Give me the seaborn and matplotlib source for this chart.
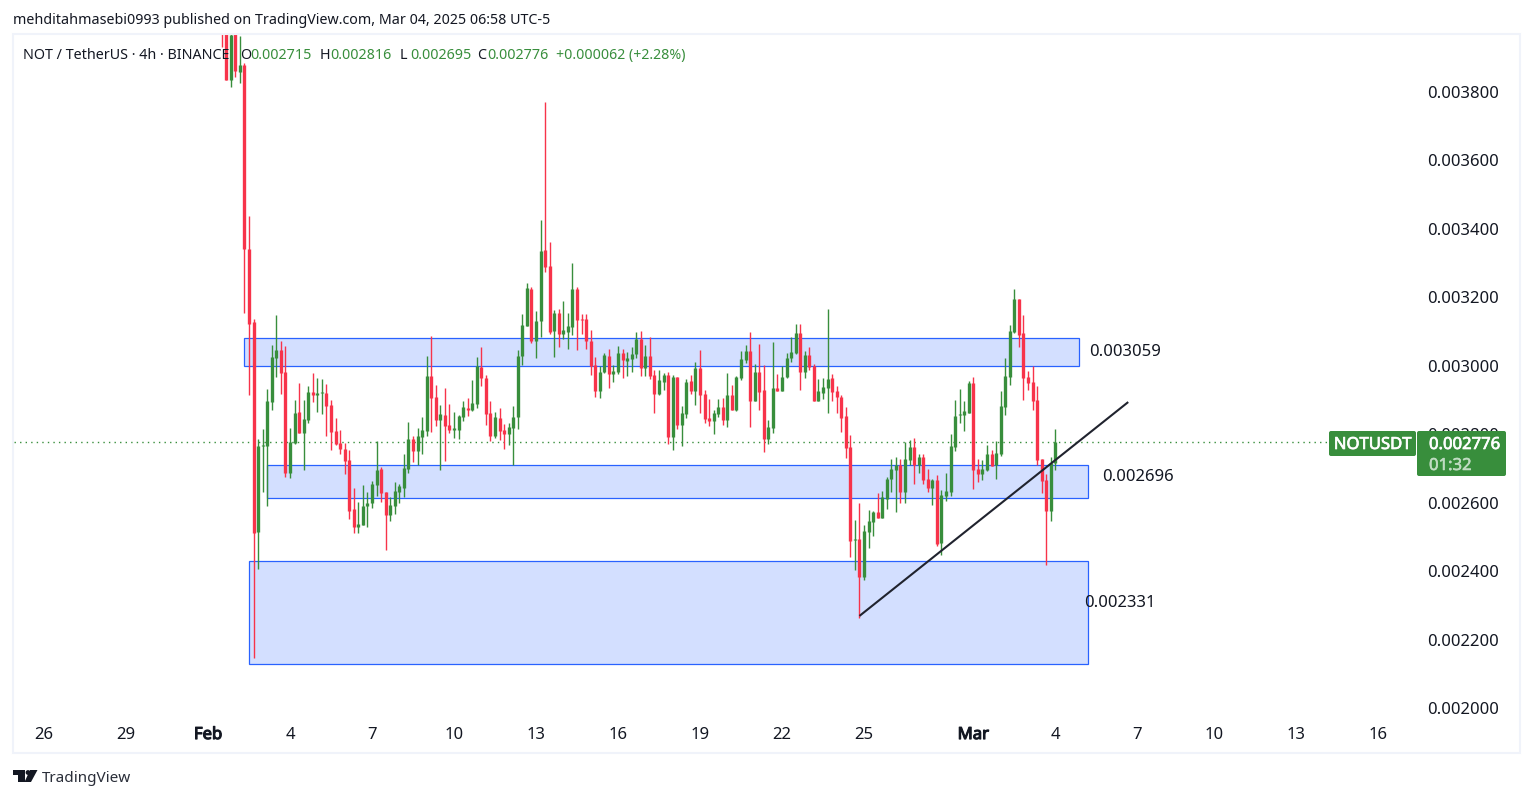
import matplotlib
matplotlib.use('Agg')
import matplotlib.dates as mdates
import matplotlib.patheffects as pe
import matplotlib.pyplot as plt
from matplotlib.patches import Circle, FancyBboxPatch, Polygon, Rectangle
import numpy as np
import pandas as pd
import seaborn as sns

# prices in millionths of a USDT, one entry per 4h candle
opens = [4060, 3990, 3835, 3990, 3858, 3879, 3341, 3128, 2514, 2766, 2766, 2894, 3023, 3046, 2982, 2687,
         2774, 2865, 2804, 2842, 2923, 2915, 2920, 2920, 2885, 2809, 2774, 2757, 2725, 2582, 2529, 2535,
         2590, 2599, 2652, 2698, 2631, 2564, 2590, 2631, 2643, 2698, 2786, 2751, 2792, 2809, 2970, 2909,
         2842, 2856, 2827, 2812, 2812, 2850, 2877, 2871, 2888, 2996, 2964, 2862, 2795, 2847, 2812, 2801,
         2818, 2850, 3029, 3116, 3224, 3072, 3131, 3338, 3292, 3102, 3154, 3093, 3099, 3113, 3224, 3137,
         3137, 3072, 3002, 2926, 2982, 3029, 2976, 2982, 3037, 3014, 3020, 3034, 3078, 2994, 3029, 2973,
         2918, 2953, 2973, 2792, 2967, 2827, 2859, 2956, 2926, 2994, 2918, 2847, 2839, 2859, 2880, 2842,
         2915, 2871, 2964, 3017, 3043, 2897, 2982, 2929, 2786, 2818, 2935, 2926, 2967, 3023, 3037, 3096,
         2982, 3032, 2999, 2897, 2920, 2935, 2964, 2926, 2909, 2853, 2763, 2491, 2494, 2383, 2514, 2544,
         2573, 2555, 2611, 2669, 2695, 2710, 2631, 2725, 2763, 2710, 2733, 2669, 2643, 2666, 2482, 2620,
         2631, 2763, 2856, 2856, 2862, 2950, 2698, 2684, 2695, 2742, 2710, 2742, 2880, 2967, 3099, 3195,
         3096, 2967, 2953, 2900, 2728, 2666, 2576, 2715]
highs = [4100, 4060, 3990, 4000, 3964, 3885, 3438, 3137, 2786, 2815, 2932, 3061, 3148, 3072, 3058, 2818,
         2900, 2950, 2900, 2941, 2979, 2964, 2961, 2947, 2900, 2847, 2812, 2774, 2754, 2643, 2602, 2652,
         2631, 2663, 2780, 2704, 2631, 2617, 2660, 2655, 2742, 2836, 2795, 2818, 2850, 3029, 3087, 2944,
         2885, 2935, 2888, 2865, 2856, 2897, 2906, 2958, 3026, 3055, 2973, 2897, 2865, 2877, 2830, 2833,
         2883, 3046, 3151, 3242, 3230, 3160, 3426, 3771, 3362, 3163, 3166, 3189, 3154, 3300, 3230, 3151,
         3151, 3105, 3026, 2999, 3037, 3049, 3002, 3058, 3049, 3040, 3055, 3099, 3102, 3061, 3084, 2988,
         2988, 2979, 2982, 2973, 2967, 2883, 2961, 2973, 3011, 3046, 2929, 2903, 2871, 2903, 2906, 2979,
         2944, 2970, 3043, 3061, 3099, 3005, 3064, 3002, 2842, 3069, 2976, 2999, 3037, 3084, 3122, 3122,
         3043, 3055, 3005, 2961, 2964, 3166, 2976, 2941, 2915, 2880, 2798, 2549, 2599, 2535, 2579, 2576,
         2628, 2634, 2675, 2728, 2733, 2728, 2777, 2783, 2789, 2742, 2742, 2698, 2669, 2681, 2637, 2687,
         2801, 2900, 2932, 2897, 2956, 2967, 2728, 2725, 2769, 2754, 2780, 2926, 3023, 3119, 3224, 3195,
         3148, 2985, 2999, 2941, 2728, 2684, 2733, 2816]
lows = [3932, 3835, 3815, 3844, 3826, 3154, 2915, 2146, 2406, 2631, 2590, 2871, 2967, 2918, 2675, 2672,
        2771, 2804, 2695, 2833, 2894, 2865, 2859, 2795, 2754, 2769, 2742, 2684, 2552, 2511, 2511, 2535,
        2529, 2584, 2620, 2602, 2462, 2546, 2567, 2599, 2617, 2687, 2719, 2710, 2742, 2795, 2807, 2824,
        2695, 2722, 2804, 2789, 2786, 2839, 2853, 2868, 2877, 2941, 2827, 2780, 2789, 2783, 2757, 2769,
        2710, 2815, 3002, 3116, 3067, 3023, 3084, 3274, 3093, 3026, 3055, 3078, 3049, 3090, 3046, 3093,
        3049, 2973, 2909, 2906, 2979, 2935, 2953, 2976, 2964, 2970, 2982, 3023, 2970, 2970, 2961, 2862,
        2915, 2929, 2771, 2754, 2815, 2766, 2847, 2918, 2885, 2862, 2833, 2824, 2801, 2850, 2827, 2821,
        2871, 2868, 2958, 3008, 2821, 2897, 2871, 2748, 2771, 2804, 2926, 2926, 2964, 3011, 3034, 2929,
        2964, 2988, 2897, 2897, 2903, 2862, 2897, 2862, 2807, 2731, 2441, 2403, 2263, 2374, 2468, 2503,
        2555, 2555, 2582, 2631, 2573, 2599, 2599, 2710, 2655, 2687, 2655, 2631, 2593, 2473, 2447, 2605,
        2620, 2751, 2833, 2809, 2862, 2640, 2660, 2666, 2693, 2707, 2669, 2736, 2856, 2944, 3096, 3055,
        2900, 2929, 2871, 2710, 2628, 2418, 2546, 2695]
closes = [3990, 3835, 3967, 3861, 3879, 3341, 3122, 2511, 2766, 2769, 2897, 3026, 3046, 2979, 2687, 2777,
          2862, 2804, 2845, 2923, 2915, 2920, 2923, 2883, 2807, 2771, 2757, 2722, 2576, 2529, 2538, 2590,
          2599, 2655, 2695, 2628, 2564, 2593, 2634, 2649, 2701, 2786, 2751, 2795, 2812, 2970, 2906, 2842,
          2859, 2824, 2812, 2818, 2853, 2880, 2871, 2891, 2999, 2964, 2859, 2795, 2850, 2809, 2801, 2821,
          2850, 3029, 3119, 3227, 3072, 3131, 3335, 3289, 3099, 3154, 3093, 3105, 3116, 3224, 3134, 3134,
          3072, 2999, 2926, 2982, 3032, 2976, 2985, 3037, 3017, 3023, 3034, 3078, 2994, 3029, 2970, 2918,
          2958, 2973, 2792, 2967, 2827, 2862, 2953, 2926, 2994, 2915, 2845, 2839, 2862, 2880, 2842, 2915,
          2871, 2967, 3020, 3043, 2897, 2982, 2923, 2786, 2821, 2935, 2926, 2967, 3023, 3040, 3096, 2982,
          3032, 2996, 2897, 2926, 2938, 2961, 2923, 2909, 2847, 2760, 2488, 2494, 2383, 2517, 2546, 2573,
          2555, 2617, 2669, 2698, 2710, 2631, 2728, 2763, 2710, 2733, 2666, 2643, 2666, 2479, 2622, 2634,
          2766, 2853, 2859, 2868, 2950, 2695, 2684, 2698, 2742, 2707, 2745, 2883, 2970, 3102, 3195, 3090,
          2964, 2950, 2897, 2725, 2663, 2576, 2716, 2776]

# support / resistance boxes: start, end, low, high
zone_starts = ['2025-02-02 08:00', '2025-02-03 04:00', '2025-02-02 12:00']
zone_ends = ['2025-03-04 21:00', '2025-03-05 05:00', '2025-03-05 05:00']
zone_lows = [2999, 2614, 2129]
zone_highs = [3081, 2710, 2430]
zone_labels = ['0.003059', '0.002696', '0.002331']

trend_times = ['2025-02-24 20:00', '2025-03-06 16:00']
trend_prices = [2269, 2894]

y_ticks = [2000, 2200, 2400, 2600, 2800, 3000, 3200, 3400, 3600, 3800]
x_tick_dates = ['2025-01-26 00:00', '2025-01-29 00:00', '2025-02-01 00:00', '2025-02-04 00:00', '2025-02-07 00:00',
                '2025-02-10 00:00', '2025-02-13 00:00', '2025-02-16 00:00', '2025-02-19 00:00', '2025-02-22 00:00',
                '2025-02-25 00:00', '2025-03-01 00:00', '2025-03-04 00:00', '2025-03-07 00:00',
                '2025-03-09 19:00', '2025-03-12 19:00', '2025-03-15 19:00']
x_tick_labels = ['26', '29', 'Feb', '4', '7', '10', '13', '16', '19', '22', '25', 'Mar', '4', '7', '10', '13', '16']

GREEN = '#388e3c'
RED = '#f7334a'
INK = '#131722'
FONT = 'Noto Sans'

sns.set_theme(style='white')
plt.rcParams['font.family'] = FONT
plt.rcParams['lines.solid_capstyle'] = 'butt'


def to_num(stamps):
    return mdates.date2num(pd.to_datetime(stamps))


def heavier(artist, color, width=0.55):
    # the installed Noto Sans has no usable bold face here
    artist.set_path_effects([pe.withStroke(linewidth=width, foreground=color)])


times = to_num(pd.date_range('2025-02-01 12:00', periods=len(opens), freq='4h'))
candles = pd.DataFrame({'t': times, 'o': opens, 'h': highs, 'l': lows, 'c': closes})
candles['id'] = candles.index
candles['dir'] = np.where(candles.c >= candles.o, 'up', 'down')
for col in 'ohlc':
    candles[col] = candles[col] / 1e6

wicks = candles.melt(id_vars=['id', 't', 'dir'], value_vars=['h', 'l'], value_name='price')
bodies = candles.melt(id_vars=['id', 't', 'dir'], value_vars=['o', 'c'], value_name='price')

fig = plt.figure(figsize=(15.34, 7.98), dpi=100, facecolor='white')
ax = fig.add_axes([14 / 1534, 80 / 798, 1400 / 1534, 684 / 798])
ax.patch.set_alpha(0)

palette = {'up': GREEN, 'down': RED}
ax.axhline(closes[-1] / 1e6, color=GREEN, lw=1, ls=(0, (1, 3)), zorder=1)

for start, end, low, high in zip(zone_starts, zone_ends, zone_lows, zone_highs):
    x0, x1 = to_num([start, end])
    ax.add_patch(Rectangle((x0, low / 1e6), x1 - x0, (high - low) / 1e6, fc='#d3dfff', ec='#2962ff',
                           lw=0.9, zorder=1.5))

sns.lineplot(data=wicks, x='t', y='price', units='id', estimator=None, hue='dir', palette=palette,
             lw=1.0, legend=False, ax=ax, zorder=2)
sns.lineplot(data=bodies, x='t', y='price', units='id', estimator=None, hue='dir', palette=palette,
             lw=2.4, legend=False, ax=ax, zorder=2.1)
sns.lineplot(x=to_num(trend_times), y=np.array(trend_prices) / 1e6, color='#20232e', lw=1.5, ax=ax, zorder=3)

day0 = mdates.date2num(pd.Timestamp('2025-02-01'))
day_px = 82 / 3
ax.set_xlim(day0 + (14 - 208) / day_px, day0 + (1414 - 208) / day_px)
ax.set_ylim((2000 - 10 * 1800 / 616) / 1e6, (2000 + 674 * 1800 / 616) / 1e6)

ax.yaxis.tick_right()
ax.set_yticks([v / 1e6 for v in y_ticks])
ax.set_yticklabels([f'{v / 1e6:.6f}' for v in y_ticks], color=INK, fontsize=12)
ax.set_xticks(to_num(x_tick_dates))
ax.set_xticklabels(x_tick_labels, color=INK, fontsize=12)
for lab in ax.get_xticklabels():
    if lab.get_text() in ('Feb', 'Mar'):
        heavier(lab, INK, 0.8)
ax.tick_params(axis='y', length=0, pad=9.4)
ax.tick_params(axis='x', length=0, pad=6.5)
ax.set_xlabel('')
ax.set_ylabel('')
sns.despine(ax=ax, left=True, bottom=True, right=True, top=True)

# page furniture in pixel coordinates
top = fig.add_axes([0, 0, 1, 1], zorder=5)
top.set_xlim(0, 1534)
top.set_ylim(798, 0)
top.axis('off')
top.add_patch(Rectangle((13, 34), 1507, 719, fill=False, ec='#f0f3fa', lw=1.5))

top.text(13, 20.5, 'mehditahmasebi0993 published on TradingView.com, Mar 04, 2025 06:58 UTC-5',
         fontsize=10.25, color=INK, va='center')
top.text(23, 55.5, 'NOT / TetherUS · 4h · BINANCE', fontsize=10.3, color=INK, va='center')
for x, name, val in [(240, 'O', '0.002715'), (320, 'H', '0.002816'), (400, 'L', '0.002695'), (477, 'C', '0.002776')]:
    top.text(x, 55.5, name, fontsize=10.3, color=INK, va='center')
    top.text(x + 10, 55.5, val, fontsize=10.3, color=GREEN, va='center')
top.text(556, 55.5, '+0.000062 (+2.28%)', fontsize=10.2, color=GREEN, va='center')

for (x, y), text in zip([(1089.5, 352), (1102.5, 477), (1084.5, 603)], zone_labels):
    top.text(x, y, text, fontsize=12, color=INK, va='center')

top.add_patch(FancyBboxPatch((1329, 431), 87, 25, boxstyle='round,pad=0,rounding_size=2', fc=GREEN, ec='none'))
top.add_patch(FancyBboxPatch((1417, 431), 89, 45, boxstyle='round,pad=0,rounding_size=2', fc=GREEN, ec='none'))
badge = top.text(1372.5, 445, 'NOTUSDT', fontsize=12, color='white', ha='center', va='center')
price = top.text(1429, 445, f'{closes[-1] / 1e6:.6f}', fontsize=12, color='white', va='center')
count = top.text(1429, 466, '01:32', fontsize=12, color='#c0dcc2', va='center')
heavier(badge, 'white', 0.5)
heavier(price, 'white', 0.5)
heavier(count, '#c0dcc2', 0.4)

# TradingView logo
top.add_patch(Polygon([(13, 770), (25, 770), (25, 782), (18, 782), (18, 775), (13, 775)], fc=INK, ec='none'))
top.add_patch(Circle((28, 772.5), 2.4, fc=INK, ec='none'))
top.add_patch(Polygon([(30, 770), (37.5, 770), (31, 782), (24.5, 782)], fc=INK, ec='none'))
top.text(42, 778.5, 'TradingView', fontsize=11, color='#2a2e39', va='center')

fig.savefig('out.png', dpi=100, facecolor='white')
